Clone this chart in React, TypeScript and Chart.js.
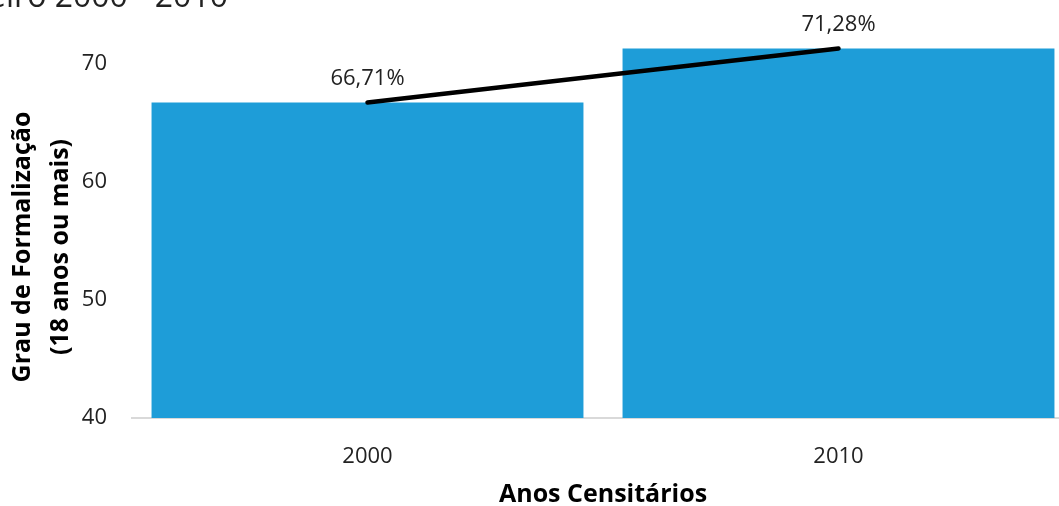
import React, { useEffect, useRef } from "react";
import { Chart, registerables } from "chart.js";

Chart.register(...registerables);

const categories: string[] = ["2000", "2010"];
const formalizacao: number[] = [66.71, 71.28];
const yTicks: number[] = [40, 50, 60, 70];
const chartTitle = "Rio de Janeiro 2000 - 2010";
const yTitleLines: string[] = ["Grau de Formalização", "(18 anos ou mais)"];
const xTitle = "Anos Censitários";

const FONT = "'Open Sans', 'Noto Sans', sans-serif";
const BAR_COLOR = "#1e9dd8";
const TEXT_COLOR = "#222222";

const fmt = (v: number) => v.toFixed(2).replace(".", ",") + "%";

const overlayPlugin = {
  id: "overlayTexts",
  afterDraw(chart: any) {
    const ctx = chart.ctx as CanvasRenderingContext2D;
    ctx.save();
    // clipped title at top-left
    ctx.fillStyle = TEXT_COLOR;
    ctx.font = `32px ${FONT}`;
    ctx.textAlign = "right";
    ctx.textBaseline = "alphabetic";
    ctx.fillText(chartTitle, 228, 7);

    // y axis title (two lines, rotated)
    ctx.fillStyle = "#000000";
    ctx.font = `bold 25px ${FONT}`;
    ctx.textAlign = "center";
    ctx.textBaseline = "middle";
    const xs = [23, 61];
    yTitleLines.forEach((line, i) => {
      ctx.save();
      ctx.translate(xs[i], 247);
      ctx.rotate(-Math.PI / 2);
      ctx.fillText(line, 0, 0);
      ctx.restore();
    });

    // data labels above line points
    const meta = chart.getDatasetMeta(0);
    ctx.fillStyle = TEXT_COLOR;
    ctx.font = `22px ${FONT}`;
    ctx.textAlign = "center";
    ctx.textBaseline = "middle";
    meta.data.forEach((pt: any, i: number) => {
      ctx.fillText(fmt(formalizacao[i]), pt.x, pt.y - 24);
    });
    ctx.restore();
  },
};

export default function App() {
  const ref = useRef<HTMLCanvasElement | null>(null);

  useEffect(() => {
    document.body.style.margin = "0";
    document.body.style.overflow = "hidden";
    const canvas = ref.current;
    if (!canvas) return;
    const chart = new Chart(canvas, {
      type: "bar",
      data: {
        labels: categories,
        datasets: [
          {
            type: "line",
            label: "Tendência",
            data: formalizacao,
            borderColor: "#000000",
            borderWidth: 4.5,
            borderCapStyle: "round",
            pointRadius: 0,
            fill: false,
            order: 0,
          } as any,
          {
            type: "bar",
            label: "Grau de Formalização",
            data: formalizacao,
            backgroundColor: BAR_COLOR,
            borderWidth: 0,
            categoryPercentage: 1,
            barPercentage: 0.917,
            order: 1,
          } as any,
        ],
      },
      options: {
        responsive: false,
        animation: false,
        devicePixelRatio: 1,
        layout: { padding: { top: 40, right: 6, left: 0, bottom: 0 } },
        plugins: {
          legend: { display: false },
          tooltip: { enabled: false },
          title: { display: false },
        },
        scales: {
          x: {
            grid: { display: false, drawTicks: false },
            border: { display: true, color: "#d9d9d9", width: 2 },
            ticks: {
              color: TEXT_COLOR,
              font: { family: FONT, size: 22 },
              padding: 26,
            },
            title: {
              display: true,
              text: xTitle,
              color: "#000000",
              font: { family: FONT, size: 25, weight: "bold", lineHeight: 0.9 },
              padding: { top: 0, bottom: 0 },
            },
            afterFit(scale: any) {
              scale.height = 88;
            },
          },
          y: {
            min: 40,
            max: 72,
            grid: { display: false, drawTicks: false },
            border: { display: false },
            ticks: {
              color: TEXT_COLOR,
              font: { family: FONT, size: 22 },
              padding: 25,
              stepSize: 10,
            },
            afterBuildTicks(scale: any) {
              scale.ticks = yTicks.map((v) => ({ value: v }));
            },
            afterFit(scale: any) {
              scale.width = 132;
            },
          },
        },
      },
      plugins: [overlayPlugin],
    });
    return () => chart.destroy();
  }, []);

  return (
    <div style={{ width: 1059, height: 506, overflow: "hidden", position: "relative", background: "#ffffff" }}>
      <canvas ref={ref} width={1080} height={506} style={{ width: 1080, height: 506, display: "block" }} />
    </div>
  );
}
